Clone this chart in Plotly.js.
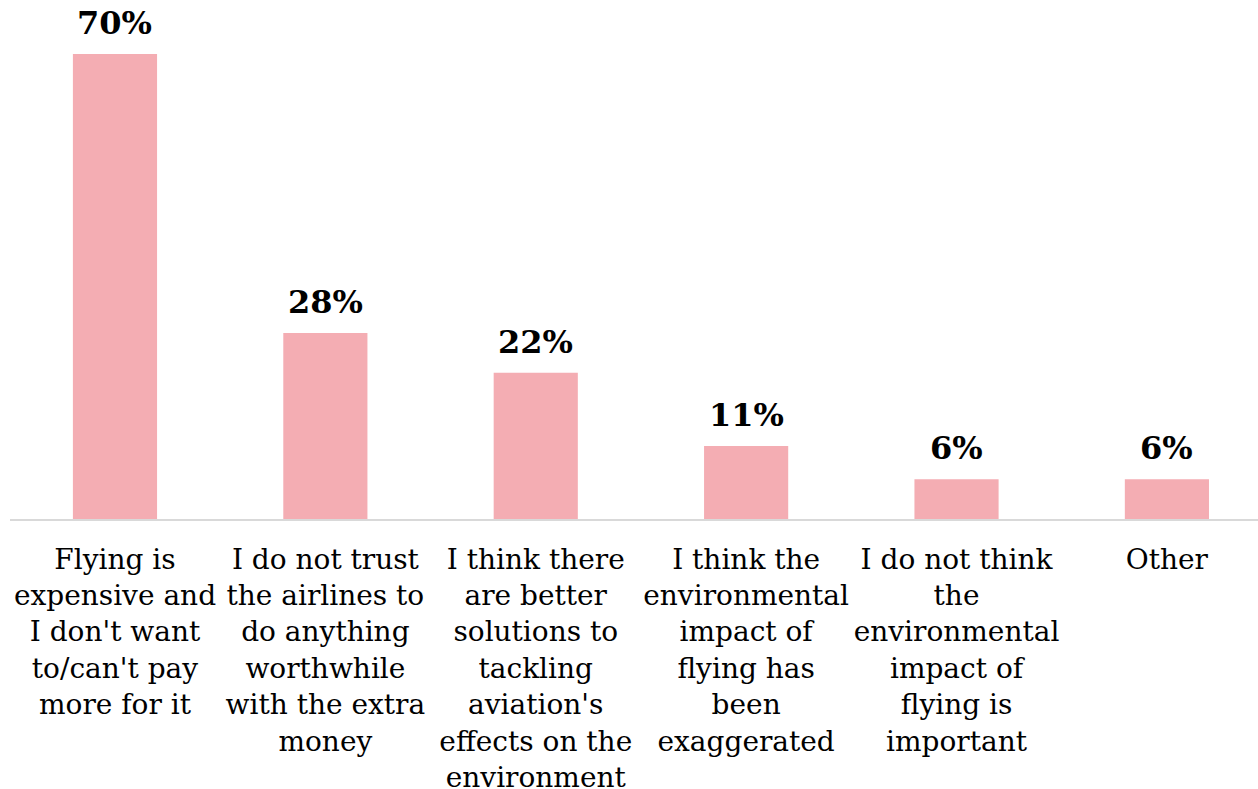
<!DOCTYPE html>
<html>
<head>
<meta charset="utf-8">
<script src="https://cdn.plot.ly/plotly-3.0.1.min.js"></script>
<style>html,body{margin:0;padding:0;background:#fff;}#chart{width:1258px;height:789px;}</style>
</head>
<body>
<div id="chart"></div>
<script>
const categories = [
  "Flying is<br>expensive and<br>I don't want<br>to/can't pay<br>more for it",
  "I do not trust<br>the airlines to<br>do anything<br>worthwhile<br>with the extra<br>money",
  "I think there<br>are better<br>solutions to<br>tackling<br>aviation's<br>effects on the<br>environment",
  "I think the<br>environmental<br>impact of<br>flying has<br>been<br>exaggerated",
  "I do not think<br>the<br>environmental<br>impact of<br>flying is<br>important",
  "Other"
];
const values = [70, 28, 22, 11, 6, 6];
const valueLabels = values.map(v => v + "%");

const trace = {
  type: "bar",
  x: categories,
  y: values,
  width: 0.4,
  marker: {color: "#f4adb3"},
  cliponaxis: false,
  hoverinfo: "skip"
};

const annotations = categories.map((c, i) => ({
  x: c,
  y: values[i],
  xref: "x",
  yref: "y",
  text: valueLabels[i],
  showarrow: false,
  yanchor: "bottom",
  yshift: 10,
  font: {family: "DejaVu Serif", size: 32, color: "#000", weight: "bold"}
}));

const layout = {
  width: 1258,
  height: 789,
  margin: {l: 10, r: 0, t: 0, b: 270},
  paper_bgcolor: "#fff",
  plot_bgcolor: "#fff",
  showlegend: false,
  annotations: annotations,
  xaxis: {
    type: "category",
    range: [-0.499, 5.433],
    showline: true,
    linecolor: "#d9d9d9",
    linewidth: 2,
    showgrid: false,
    zeroline: false,
    ticks: "",
    tickangle: 0,
    ticklabelstandoff: 14,
    tickfont: {family: "DejaVu Serif", size: 28, color: "#000"},
    automargin: false
  },
  yaxis: {
    range: [0, 78.13],
    visible: false,
    showgrid: false,
    zeroline: false
  }
};

Plotly.newPlot("chart", [trace], layout, {staticPlot: true, displayModeBar: false});
</script>
</body>
</html>
